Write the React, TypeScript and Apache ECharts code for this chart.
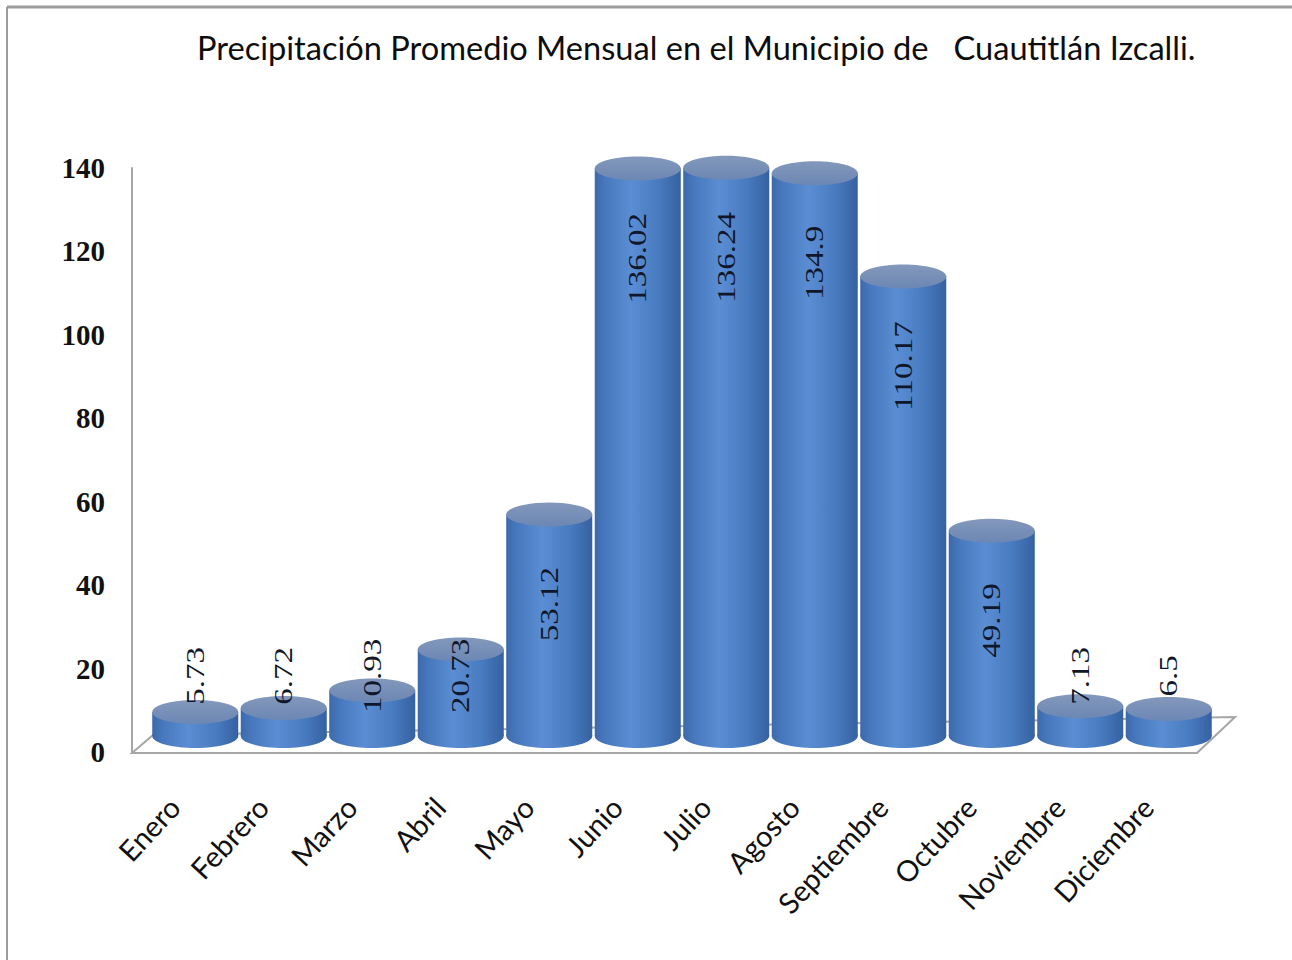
import React, { useEffect, useRef } from "react";
import * as echarts from "echarts";

const titleText = "Precipitación Promedio Mensual en el Municipio de   Cuautitlán Izcalli.";
const months = [
  "Enero", "Febrero", "Marzo", "Abril", "Mayo", "Junio",
  "Julio", "Agosto", "Septiembre", "Octubre", "Noviembre", "Diciembre",
];
const precipitation = [5.73, 6.72, 10.93, 20.73, 53.12, 136.02, 136.24, 134.9, 110.17, 49.19, 7.13, 6.5];
const yMin = 0;
const yMax = 140;
const yStep = 20;

const DEPTH = 16; // 3D depth shift (px)
const RY = 12; // ellipse half-height (px)

const bodyStops = [
  { offset: 0, color: "#3d69aa" },
  { offset: 0.12, color: "#4778bd" },
  { offset: 0.42, color: "#5a8dd3" },
  { offset: 0.75, color: "#487abf" },
  { offset: 1, color: "#3561a0" },
];
const topStops = [
  { offset: 0, color: "#8398bb" },
  { offset: 1, color: "#6c87b4" },
];

export default function App() {
  const ref = useRef<HTMLDivElement>(null);
  useEffect(() => {
    document.body.style.margin = "0";
    const chart = echarts.init(ref.current!, undefined, { renderer: "svg" });
    const data = months.map((m, i) => [m, precipitation[i]]);
    chart.setOption({
      animation: false,
      backgroundColor: "#ffffff",
      title: {
        text: titleText,
        left: 192,
        top: 26,
        textStyle: { fontFamily: "Lato", fontSize: 32.6, fontWeight: "normal", color: "#0d0d0d" },
      },
      grid: { left: 151, right: 79, top: 168, bottom: 208, containLabel: false },
      xAxis: {
        type: "category",
        data: months,
        axisLine: { show: false },
        axisTick: { show: false },
        axisLabel: {
          rotate: 47,
          margin: 27,
          padding: [0, 31, 0, 0],
          fontFamily: "Lato",
          fontSize: 29,
          color: "#111",
          interval: 0,
        },
      },
      yAxis: {
        type: "value",
        min: yMin,
        max: yMax,
        interval: yStep,
        offset: 19,
        splitLine: { show: false },
        axisTick: { show: false },
        axisLine: { show: true, lineStyle: { color: "#a6a6a6", width: 2 } },
        axisLabel: {
          margin: 27,
          fontFamily: "Liberation Serif",
          fontWeight: "bold",
          fontSize: 29,
          color: "#111",
        },
      },
      graphic: [
        { type: "line", shape: { x1: 7, y1: 7, x2: 1292, y2: 7 }, style: { stroke: "#9c9c9c", lineWidth: 3 } },
        { type: "line", shape: { x1: 7, y1: 7, x2: 7, y2: 960 }, style: { stroke: "#9c9c9c", lineWidth: 2 } },
      ],
      series: [
        {
          type: "custom",
          silent: true,
          clip: false,
          z: 1,
          data: [[months[0], 0]],
          renderItem: (params: any) => {
            const cs = params.coordSys;
            const left = cs.x;
            const right = cs.x + cs.width;
            const zero = cs.y + cs.height;
            return {
              type: "polygon",
              shape: {
                points: [
                  [left - 19, zero + 1],
                  [right - 16, zero + 1],
                  [right + 22, zero - 35],
                  [left + 2, zero - 17],
                ],
              },
              style: { fill: "#ffffff", stroke: "#a6a6a6", lineWidth: 2 },
            };
          },
        },
        {
          type: "custom",
          clip: false,
          z: 2,
          data,
          encode: { x: 0, y: 1 },
          renderItem: (params: any, api: any) => {
            const idx = api.value(0);
            const v = api.value(1);
            const top = api.coord([idx, v]);
            const base = api.coord([idx, 0]);
            const w = api.size([1, 0])[0] * 0.972;
            const cx = top[0];
            const ty = top[1] - DEPTH;
            const by = base[1] - DEPTH;
            const rx = w / 2;
            const labelVal = Math.max(v - 21.5, 14.4);
            const ly = api.coord([idx, labelVal])[1] - DEPTH;
            const bodyFill = new echarts.graphic.LinearGradient(0, 0, 1, 0, bodyStops);
            const topFill = new echarts.graphic.LinearGradient(0, 0, 0, 1, topStops);
            return {
              type: "group",
              children: [
                { type: "ellipse", shape: { cx, cy: by, rx, ry: RY }, style: { fill: bodyFill } },
                { type: "rect", shape: { x: cx - rx, y: ty, width: w, height: by - ty }, style: { fill: bodyFill } },
                { type: "ellipse", shape: { cx, cy: ty, rx, ry: RY }, style: { fill: topFill } },
                {
                  type: "text",
                  x: cx,
                  y: ly,
                  rotation: Math.PI / 2,
                  scaleX: 1.27,
                  style: {
                    text: String(precipitation[params.dataIndex]),
                    fill: "#10172a",
                    font: '26px "Liberation Serif"',
                    align: "center",
                    verticalAlign: "middle",
                  },
                },
              ],
            };
          },
        },
      ],
    });
    return () => chart.dispose();
  }, []);
  return <div ref={ref} style={{ width: 1292, height: 960 }} />;
}
